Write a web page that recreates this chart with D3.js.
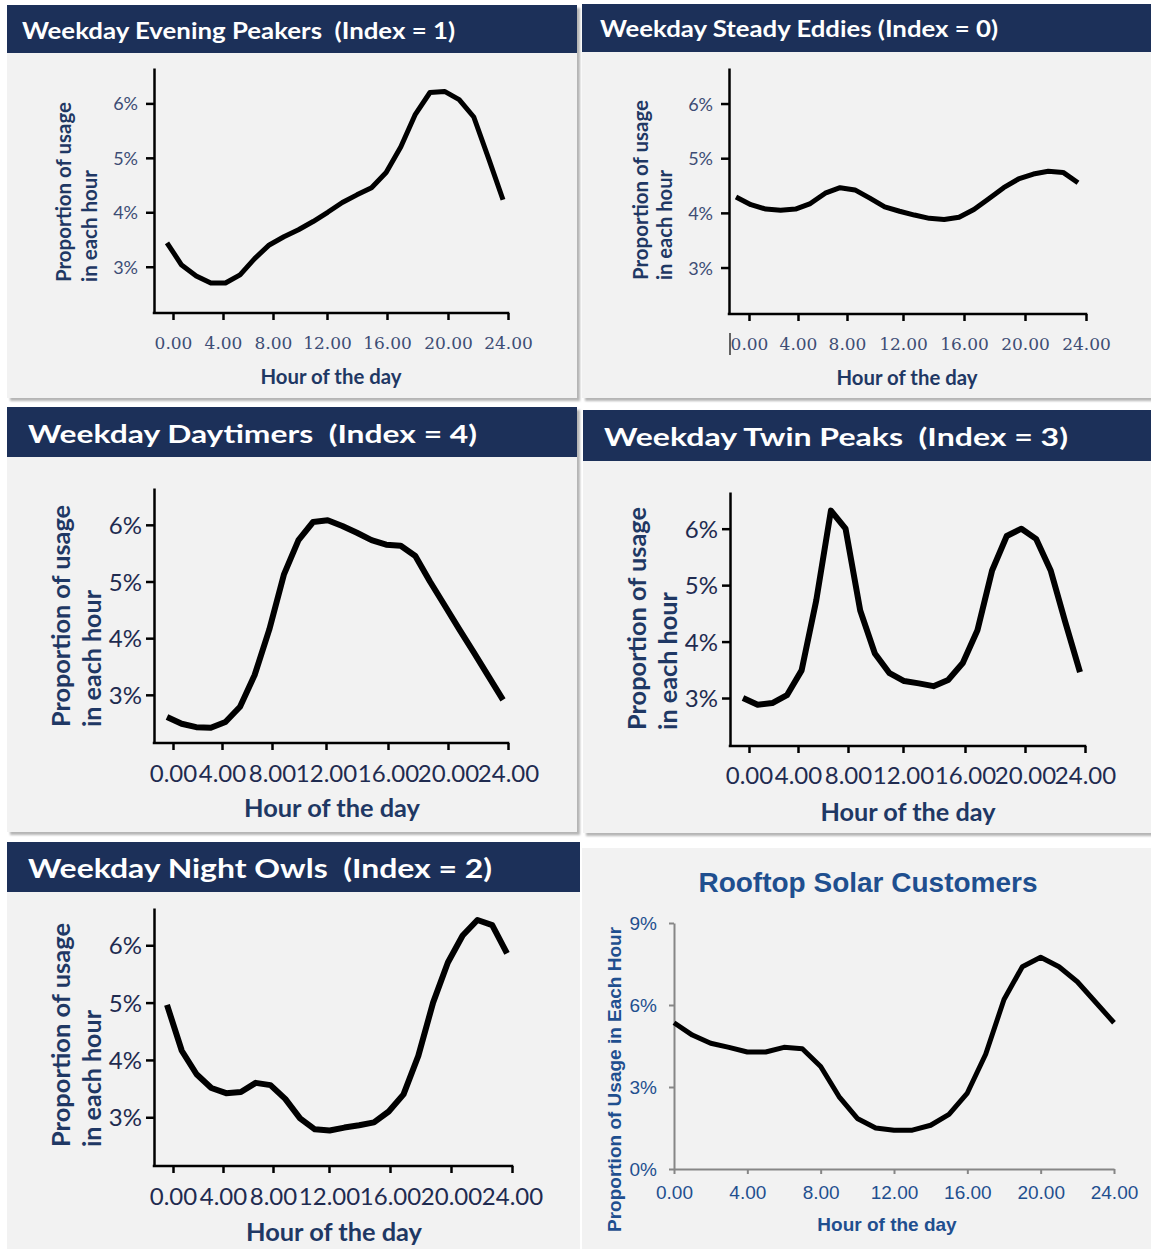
<!DOCTYPE html>
<html>
<head>
<meta charset="utf-8">
<script src="https://cdn.jsdelivr.net/npm/d3@7"></script>
<style>
  body { margin: 0; background: #fff; }
  svg { display: block; }
</style>
</head>
<body>
<div id="chart"></div>
<script>
const width = 1151
const height = 1249

// hour of the day for each hourly value
const hours = [0, 1, 2, 3, 4, 5, 6, 7, 8, 9, 10, 11, 12, 13, 14, 15, 16, 17, 18, 19, 20, 21, 22, 23]
const tickHours = [0, 4, 8, 12, 16, 20, 24]
const pctTicks = [3, 4, 5, 6]

// proportion of usage in each hour (%), one list per cluster
const eveningPeakers = [3.44, 3.03, 2.83, 2.7, 2.7, 2.85, 3.15, 3.4, 3.55, 3.68, 3.83, 4.0, 4.18, 4.32, 4.45, 4.73, 5.2, 5.8, 6.2, 6.22, 6.07, 5.75, 5.0, 4.23]
const steadyEddies = [4.29, 4.15, 4.07, 4.05, 4.07, 4.17, 4.36, 4.46, 4.42, 4.27, 4.11, 4.03, 3.96, 3.9, 3.88, 3.92, 4.06, 4.26, 4.46, 4.62, 4.71, 4.76, 4.74, 4.55]
const daytimers = [2.61, 2.49, 2.43, 2.42, 2.52, 2.79, 3.35, 4.15, 5.12, 5.73, 6.05, 6.08, 5.98, 5.86, 5.73, 5.65, 5.63, 5.45, 5.0, 4.58, 4.16, 3.75, 3.33, 2.91]
const twinPeaks = [3.0, 2.88, 2.91, 3.05, 3.49, 4.73, 6.32, 6.0, 4.55, 3.79, 3.44, 3.3, 3.26, 3.21, 3.32, 3.62, 4.2, 5.26, 5.87, 6.0, 5.82, 5.26, 4.34, 3.46]
const nightOwls = [4.96, 4.16, 3.75, 3.51, 3.42, 3.44, 3.6, 3.56, 3.32, 2.98, 2.79, 2.77, 2.82, 2.86, 2.91, 3.1, 3.4, 4.07, 5.0, 5.7, 6.17, 6.44, 6.35, 5.86]

// rooftop solar customers
const solarHours = [0, 1, 2, 3, 4, 5, 6, 7, 8, 9, 10, 11, 12, 13, 14, 15, 16, 17, 18, 19, 20, 21, 22, 23, 24]
const solarUsage = [5.35, 4.9, 4.6, 4.45, 4.28, 4.28, 4.45, 4.4, 3.75, 2.65, 1.85, 1.5, 1.42, 1.42, 1.6, 2.0, 2.78, 4.2, 6.2, 7.4, 7.75, 7.4, 6.85, 6.1, 5.35]
const solarTicks = [0, 3, 6, 9]

const navy = "#1c3059"
const labelBlue = "#1f3864"
const solarBlue = "#1f4f8f"
const sans = "Lato, 'Open Sans', sans-serif"

const fmtHour = d3.format(".2f")
const fmtPct = d => d + "%"

const svg = d3.select("#chart")
  .append("svg")
  .attr("width", width)
  .attr("height", height)

const defs = svg.append("defs")
defs.append("filter").attr("id", "soft")
  .append("feGaussianBlur").attr("stdDeviation", 1.2)

// styles of the two panel sizes
const small = { yTick: 18, xTick: 17, xTickFont: "'DejaVu Serif', serif", tickColor: "#3d4d75", label: 20, lineWidth: 5 }
const big = { yTick: 24, xTick: 24, xTickFont: sans, tickColor: "#1f2b50", label: 25, lineWidth: 6 }

// layout of the five cluster panels (the pasted charts have slightly uneven tick spacing)
const panels = [
  { title: "Weekday Evening Peakers  (Index = 1)", values: eveningPeakers, st: small,
    box: [7, 53, 570, 345], bar: [7, 5, 570, 48], titleX: 22, titleY: 39, titleSize: 23, titleLen: 433, shadow: true,
    axisX: 154, yTop: 68, yBottom: 313, tickPx: [173, 223, 273, 327, 387, 448, 508], pointPx: [167, 503],
    xTickY: 343, yTickRight: 138,
    yLab: [71, 97], yLabStart: 282, yLabLen: [180, 112], xLabX: 331, xLabY: 384, xLabLen: 141 },
  { title: "Weekday Steady Eddies (Index = 0)", values: steadyEddies, st: small,
    box: [582, 52, 569, 346], bar: [582, 4, 569, 48], titleX: 600, titleY: 37, titleSize: 23, titleLen: 398, shadow: true,
    axisX: 729, yTop: 68, yBottom: 314, tickPx: [749, 798, 847, 903, 964, 1025, 1086], pointPx: [736, 1078],
    xTickY: 344, yTickRight: 713, cursor: true,
    yLab: [648, 672], yLabStart: 280, yLabLen: [180, 110], xLabX: 907, xLabY: 385, xLabLen: 141 },
  { title: "Weekday Daytimers  (Index = 4)", values: daytimers, st: big,
    box: [7, 457, 570, 375], bar: [7, 407, 570, 50], titleX: 28, titleY: 443, titleSize: 25, titleLen: 449, shadow: true,
    axisX: 154, yTop: 488, yBottom: 743, tickPx: [173, 222, 272, 326, 388, 448, 508], pointPx: [167, 503],
    xTickY: 773, yTickRight: 142,
    yLab: [70, 101], yLabStart: 727, yLabLen: [222, 137], xLabX: 332, xLabY: 817, xLabLen: 176 },
  { title: "Weekday Twin Peaks  (Index = 3)", values: twinPeaks, st: big,
    box: [583, 461, 568, 372], bar: [583, 410, 568, 51], titleX: 604, titleY: 446, titleSize: 25, titleLen: 464, shadow: true,
    axisX: 730, yTop: 492, yBottom: 746, tickPx: [749, 798, 848, 903, 965, 1025, 1085], pointPx: [743, 1080],
    xTickY: 775, yTickRight: 718,
    yLab: [646, 677], yLabStart: 730, yLabLen: [223, 138], xLabX: 908, xLabY: 821, xLabLen: 175 },
  { title: "Weekday Night Owls  (Index = 2)", values: nightOwls, st: big,
    box: [7, 892, 573, 357], bar: [7, 842, 573, 50], titleX: 28, titleY: 878, titleSize: 26, titleLen: 464, shadow: false,
    axisX: 154, yTop: 908, yBottom: 1166, tickPx: [173, 223, 273, 329, 390, 451, 512], pointPx: [167, 507],
    xTickY: 1196, yTickRight: 142,
    yLab: [70, 101], yLabStart: 1147, yLabLen: [224, 137], xLabX: 334, xLabY: 1241, xLabLen: 176 }
]

function drawPanel(p) {
  const g = svg.append("g")
  const st = p.st

  if (p.shadow) {
    g.append("rect")
      .attr("x", p.box[0] + 3).attr("y", p.bar[1] + 3)
      .attr("width", p.box[2]).attr("height", p.box[1] + p.box[3] - p.bar[1])
      .attr("fill", "#b5b5b5")
      .attr("filter", "url(#soft)")
  }
  g.append("rect")
    .attr("x", p.box[0]).attr("y", p.box[1])
    .attr("width", p.box[2]).attr("height", p.box[3])
    .attr("fill", "#f2f2f2")
  g.append("rect")
    .attr("x", p.bar[0]).attr("y", p.bar[1])
    .attr("width", p.bar[2]).attr("height", p.bar[3])
    .attr("fill", navy)
  g.append("text")
    .attr("x", p.titleX).attr("y", p.titleY)
    .attr("fill", "#fff")
    .attr("font-family", sans).attr("font-weight", 700).attr("font-size", p.titleSize)
    .attr("textLength", p.titleLen).attr("lengthAdjust", "spacingAndGlyphs")
    .style("white-space", "pre")
    .text(p.title)

  // tick axis and an evenly spread point scale for the hourly values
  const x = d3.scaleLinear().domain(tickHours).range(p.tickPx)
  const xp = d3.scalePoint().domain(hours).range(p.pointPx)
  const y = d3.scaleLinear().domain([2.15, 6.65]).range([p.yBottom, p.yTop])

  // y axis
  const yAxis = g.append("g")
    .attr("transform", `translate(${p.axisX},0)`)
    .call(d3.axisLeft(y).tickValues(pctTicks).tickSize(8).tickSizeOuter(0).tickFormat(fmtPct))
  yAxis.select(".domain").attr("stroke", "#000").attr("stroke-width", 2.5)
  yAxis.selectAll(".tick line").attr("stroke", "#000").attr("stroke-width", 2.5)
  yAxis.selectAll(".tick text")
    .attr("x", p.yTickRight - p.axisX).attr("dy", "0.36em")
    .attr("font-family", sans).attr("font-size", st.yTick).attr("fill", st.tickColor)

  // x axis
  g.append("line")
    .attr("x1", p.axisX - 1.25).attr("x2", x(24) + 1.25)
    .attr("y1", p.yBottom).attr("y2", p.yBottom)
    .attr("stroke", "#000").attr("stroke-width", 2.5)
  const xAxis = g.append("g")
    .attr("transform", `translate(0,${p.yBottom})`)
    .call(d3.axisBottom(x).tickValues(tickHours).tickSize(7).tickSizeOuter(0).tickFormat(fmtHour))
  xAxis.select(".domain").remove()
  xAxis.selectAll(".tick line").attr("stroke", "#000").attr("stroke-width", 2.5)
  xAxis.selectAll(".tick text")
    .attr("y", p.xTickY - p.yBottom).attr("dy", "0.36em")
    .attr("font-family", st.xTickFont).attr("font-size", st.xTick).attr("fill", st.tickColor)

  if (p.cursor) {
    g.append("line")
      .attr("x1", p.axisX + 1).attr("x2", p.axisX + 1)
      .attr("y1", p.xTickY - 11).attr("y2", p.xTickY + 11)
      .attr("stroke", "#333").attr("stroke-width", 1.5)
  }

  // axis titles
  const yTitle = ["Proportion of usage", "in each hour"]
  yTitle.forEach((t, i) => {
    g.append("text")
      .attr("transform", `translate(${p.yLab[i]},${p.yLabStart}) rotate(-90)`)
      .attr("fill", labelBlue)
      .attr("font-family", sans).attr("font-weight", 700).attr("font-size", st.label)
      .attr("textLength", p.yLabLen[i]).attr("lengthAdjust", "spacingAndGlyphs")
      .text(t)
  })
  g.append("text")
    .attr("x", p.xLabX).attr("y", p.xLabY)
    .attr("text-anchor", "middle")
    .attr("fill", labelBlue)
    .attr("font-family", sans).attr("font-weight", 700).attr("font-size", st.label)
    .attr("textLength", p.xLabLen).attr("lengthAdjust", "spacingAndGlyphs")
    .text("Hour of the day")

  // usage curve
  const line = d3.line()
    .x((d, i) => xp(hours[i]))
    .y(d => y(d))
  g.append("path")
    .datum(p.values)
    .attr("d", line)
    .attr("fill", "none")
    .attr("stroke", "#000")
    .attr("stroke-width", st.lineWidth)
    .attr("stroke-linejoin", "round")
}

function drawSolar() {
  const g = svg.append("g")
  const font = "'Liberation Sans', Arial, sans-serif"

  g.append("rect")
    .attr("x", 582).attr("y", 848)
    .attr("width", 569).attr("height", 401)
    .attr("fill", "#f2f2f2")
  g.append("text")
    .attr("x", 868).attr("y", 892)
    .attr("text-anchor", "middle")
    .attr("fill", solarBlue)
    .attr("font-family", font).attr("font-weight", 700).attr("font-size", 28)
    .text("Rooftop Solar Customers")

  const x = d3.scaleLinear().domain([0, 24]).range([674, 1114])
  const y = d3.scaleLinear().domain([0, 9]).range([1169, 923])

  const yAxis = g.append("g")
    .attr("transform", "translate(674,0)")
    .call(d3.axisLeft(y).tickValues(solarTicks).tickSize(5).tickSizeOuter(0).tickFormat(fmtPct))
  const xAxis = g.append("g")
    .attr("transform", "translate(0,1169)")
    .call(d3.axisBottom(x).tickValues(tickHours).tickSize(5).tickSizeOuter(0).tickFormat(fmtHour))
  g.selectAll(".domain, .tick line").attr("stroke", "#868686").attr("stroke-width", 2)
  yAxis.selectAll(".tick text")
    .attr("x", -17).attr("dy", "0.36em")
    .attr("font-family", font).attr("font-size", 19).attr("fill", solarBlue)
  xAxis.selectAll(".tick text")
    .attr("y", 23).attr("dy", "0.36em")
    .attr("font-family", font).attr("font-size", 19).attr("fill", solarBlue)

  g.append("text")
    .attr("transform", "translate(621,1232) rotate(-90)")
    .attr("fill", solarBlue)
    .attr("font-family", font).attr("font-weight", 700).attr("font-size", 19)
    .text("Proportion of Usage in Each Hour")
  g.append("text")
    .attr("x", 887).attr("y", 1231)
    .attr("text-anchor", "middle")
    .attr("fill", solarBlue)
    .attr("font-family", font).attr("font-weight", 700).attr("font-size", 19)
    .text("Hour of the day")

  const line = d3.line()
    .x((d, i) => x(solarHours[i]))
    .y(d => y(d))
  g.append("path")
    .datum(solarUsage)
    .attr("d", line)
    .attr("fill", "none")
    .attr("stroke", "#000")
    .attr("stroke-width", 5)
    .attr("stroke-linejoin", "round")
}

panels.forEach(drawPanel)
drawSolar()
</script>
</body>
</html>
